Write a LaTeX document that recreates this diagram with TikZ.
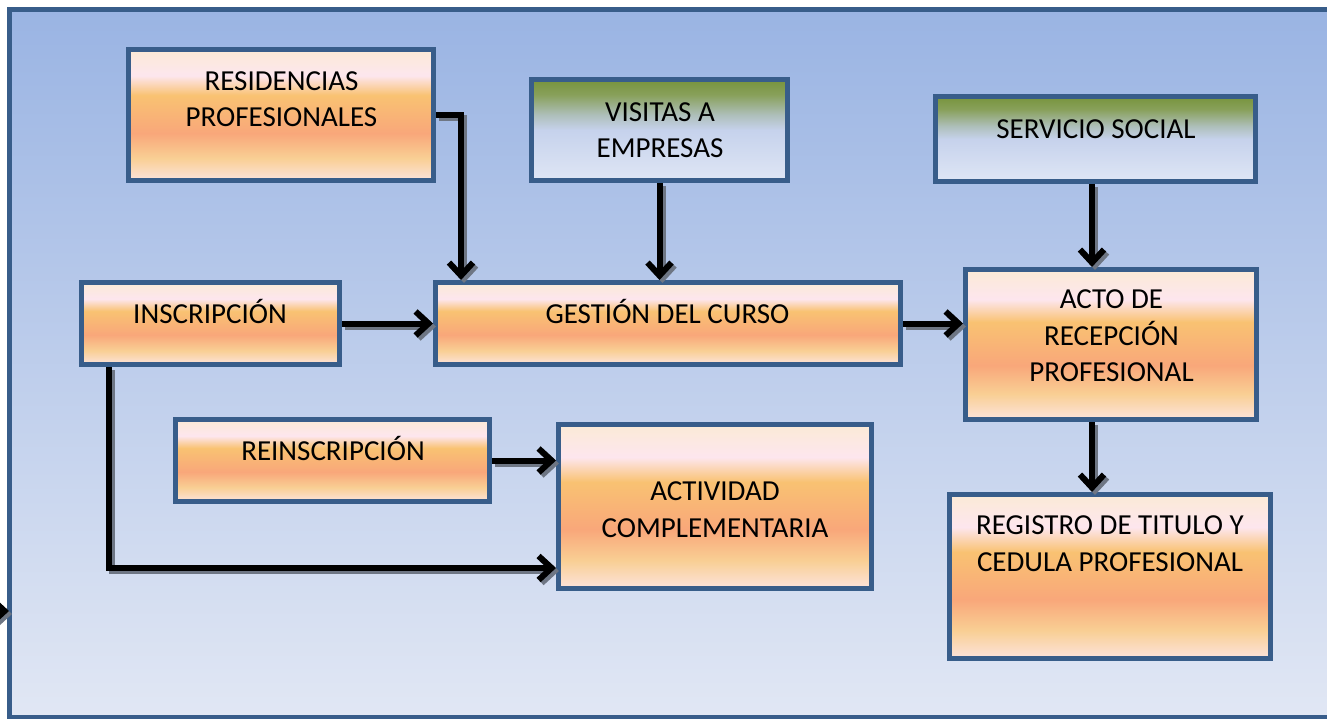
\documentclass[tikz,border=0pt]{standalone}
\usepackage{fontspec}
\setmainfont{Carlito}
\usetikzlibrary{arrows.meta}
\definecolor{bordercol}{HTML}{385D8A}
\definecolor{bgtop}{HTML}{9AB4E3}
\definecolor{bgbot}{HTML}{E1E7F4}
\definecolor{oa}{HTML}{FBEAD6}
\definecolor{ob}{HTML}{FDE6EE}
\definecolor{oc}{HTML}{F9C272}
\definecolor{od}{HTML}{F9A77A}
\definecolor{oe}{HTML}{F9CF94}
\definecolor{of}{HTML}{FCE3DC}
\definecolor{ga}{HTML}{77933C}
\definecolor{gb}{HTML}{88A05A}
\definecolor{gc}{HTML}{AEBFBA}
\definecolor{gd}{HTML}{C6D2EC}
\definecolor{ge}{HTML}{DFE6F5}
\definecolor{shadowcol}{HTML}{6E7684}
\pgfdeclareverticalshading{orangeshade}{100bp}{color(0bp)=(of); color(25bp)=(of); color(33.5bp)=(oe); color(43bp)=(od); color(57.5bp)=(oc); color(65bp)=(ob); color(75bp)=(oa); color(100bp)=(oa)}
\pgfdeclareverticalshading{greenshade}{100bp}{color(0bp)=(ge); color(25bp)=(ge); color(50bp)=(gd); color(57.5bp)=(gc); color(67.5bp)=(gb); color(75bp)=(ga); color(100bp)=(ga)}
\tikzset{
  boxbase/.style={draw=bordercol, line width=5pt, inner sep=0pt, rectangle},
  obox/.style={boxbase, shading=orangeshade},
  gbox/.style={boxbase, shading=greenshade},
  lbl/.style={font=\fontsize{29}{36.5}\selectfont, align=center, inner sep=0pt, text=black},
  lblone/.style={lbl, text height=18.7pt, text depth=0pt},
  arr/.style={line width=6pt, -{Straight Barb[length=13pt,width=24pt]}},
}
\newcommand\shadarrow[1]{%
  \begin{scope}[transform canvas={shift={(3pt,-3pt)}}]\draw[arr, draw=shadowcol] #1;\end{scope}
  \draw[arr] #1;}
\begin{document}
\begin{tikzpicture}[x=1pt,y=-1pt]
\useasboundingbox (0,0) rectangle (1327,719);
\clip (0,0) rectangle (1327,719);
% frame
\draw[draw=bordercol, line width=5pt, top color=bgtop, bottom color=bgbot] (9.5,9.5) rectangle (1345,717.5);
% boxes
\node[obox, minimum width=305pt, minimum height=131pt] (res) at (281,115) {};
\node[gbox, minimum width=256pt, minimum height=101pt] (vis) at (659.5,130) {};
\node[gbox, minimum width=320pt, minimum height=85pt] (ser) at (1095.5,139) {};
\node[obox, minimum width=258pt, minimum height=82pt] (ins) at (210.5,323.5) {};
\node[obox, minimum width=465pt, minimum height=82pt] (ges) at (668,323.5) {};
\node[obox, minimum width=291pt, minimum height=150pt] (act) at (1111,344.5) {};
\node[obox, minimum width=314pt, minimum height=82pt] (rei) at (332.5,460.5) {};
\node[obox, minimum width=313pt, minimum height=164pt] (acv) at (715,506.5) {};
\node[obox, minimum width=321pt, minimum height=164pt] (reg) at (1110,576.5) {};
% labels
\node[lbl] (resT) at (281.5,99) {RESIDENCIAS\\PROFESIONALES};
\node[lbl] (visT) at (660,130) {VISITAS A\\EMPRESAS};
\node[lblone] (serT) at (1096,129) {SERVICIO SOCIAL};
\node[lblone] (insT) at (210,314) {INSCRIPCIÓN};
\node[lblone] (gesT) at (667.5,314) {GESTIÓN DEL CURSO};
\node[lbl] (actT) at (1111.5,336) {ACTO DE\\RECEPCIÓN\\PROFESIONAL};
\node[lblone] (reiT) at (333,451) {REINSCRIPCIÓN};
\node[lbl] (acvT) at (715,509.5) {ACTIVIDAD\\COMPLEMENTARIA};
\node[lbl] (regT) at (1110,543.75) {REGISTRO DE TITULO Y\\CEDULA PROFESIONAL};
% helper coordinates
\coordinate (vx) at (1092,0);
\coordinate (resdrop) at (461,0);
\coordinate (insdrop) at (109,0);
\coordinate (lowrow) at (0,568);
\coordinate (edgeA) at (-30,611);
\coordinate (edgeB) at (9,611);
% connectors
\shadarrow{(res.east) -| (resdrop |- ges.north)}
\shadarrow{(vis.south) -- (vis.south |- ges.north)}
\shadarrow{(vx |- ser.south) -- (vx |- act.north)}
\shadarrow{(ins.east) -- (ins.east -| ges.west)}
\shadarrow{(ges.east) -- (ges.east -| act.west)}
\shadarrow{(vx |- act.south) -- (vx |- reg.north)}
\shadarrow{(rei.east) -- (rei.east -| acv.west)}
\shadarrow{(insdrop |- ins.south) |- (acv.west |- lowrow)}
\shadarrow{(edgeA) -- (edgeB)}
\end{tikzpicture}
\end{document}
